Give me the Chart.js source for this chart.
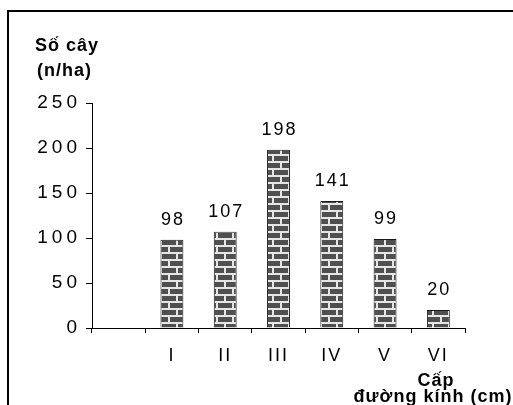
<!DOCTYPE html>
<html>
<head>
<meta charset="utf-8">
<script src="https://cdn.jsdelivr.net/npm/chart.js@4/dist/chart.umd.min.js"></script>
<style>
  html, body { margin: 0; padding: 0; background: #fff; }
  #wrap { position: relative; width: 513px; height: 405px; }
</style>
</head>
<body>
<div id="wrap"><canvas id="c" width="513" height="405"></canvas></div>
<script>
// Diameter classes (first slot left empty) and tree counts per hectare
const categories = ['', 'I', 'II', 'III', 'IV', 'V', 'VI'];
const treeCounts = [null, 98, 107, 198, 141, 99, 20];
const yTicks = [0, 50, 100, 150, 200, 250];
const yTitleLines = ['Số cây', '(n/ha)'];
const xTitleLines = ['Cấp', 'đường kính (cm)'];

const FONT = "'Liberation Sans', Arial, sans-serif";

// Brick hatch fill for the bars
function brickPattern(ctx) {
  const c = document.createElement('canvas');
  c.width = 16; c.height = 14;
  const g = c.getContext('2d');
  g.fillStyle = '#e6e6e6';
  g.fillRect(0, 0, 16, 14);
  g.fillStyle = '#4f4f4f';
  g.fillRect(2, 2, 14, 5);
  g.fillRect(0, 9, 8, 5);
  g.fillRect(10, 9, 6, 5);
  return ctx.createPattern(c, 'repeat');
}

const canvas = document.getElementById('c');
const ctx0 = canvas.getContext('2d');

// Letter spacing: x labels (drawn before the bars) and y labels (drawn after them)
const spacingPlugin = {
  id: 'spacing',
  beforeDraw(chart) { chart.ctx.letterSpacing = '2px'; },
  afterDatasetsDraw(chart) { chart.ctx.letterSpacing = '4px'; }
};

// Value labels above each bar
const valueLabels = {
  id: 'valueLabels',
  afterDatasetsDraw(chart) {
    const ctx = chart.ctx;
    const meta = chart.getDatasetMeta(0);
    ctx.save();
    ctx.letterSpacing = '2px';
    ctx.font = '18px ' + FONT;
    ctx.fillStyle = '#000';
    ctx.textAlign = 'center';
    ctx.textBaseline = 'alphabetic';
    meta.data.forEach((bar, i) => {
      const v = treeCounts[i];
      if (v == null) return;
      ctx.fillText(String(v), bar.x + 1, bar.y - 15);
    });
    ctx.restore();
  }
};

// Axis titles and the outer frame
const decorations = {
  id: 'decorations',
  afterDraw(chart) {
    const ctx = chart.ctx;
    ctx.save();
    ctx.letterSpacing = '1px';
    ctx.fillStyle = '#000';
    ctx.font = 'bold 18px ' + FONT;
    ctx.textAlign = 'left';
    ctx.textBaseline = 'middle';
    ctx.fillText(yTitleLines[0], 35, 46);
    ctx.fillText(yTitleLines[1], 37, 71);
    ctx.textAlign = 'center';
    ctx.fillText(xTitleLines[0], 436, 381);
    ctx.fillText(xTitleLines[1], 433, 397);
    ctx.fillRect(7, 10, 2, 395);
    ctx.fillRect(7, 10, 506, 2);
    ctx.restore();
  }
};

new Chart(ctx0, {
  type: 'bar',
  data: {
    labels: categories,
    datasets: [{
      data: treeCounts,
      backgroundColor: brickPattern(ctx0),
      borderColor: '#1a1a1a',
      borderWidth: 1,
      categoryPercentage: 1,
      barPercentage: 0.43
    }]
  },
  options: {
    responsive: false,
    animation: false,
    events: [],
    layout: { padding: { top: 103, right: 48, left: 0, bottom: 0 } },
    plugins: { legend: { display: false }, tooltip: { enabled: false }, title: { display: false } },
    scales: {
      x: {
        offset: true,
        grid: { display: true, offset: true, drawOnChartArea: false, drawTicks: true, tickLength: 5, color: '#000' },
        border: { display: true, color: '#000', width: 1 },
        ticks: { color: '#000', font: { family: FONT, size: 18 }, padding: 12, maxRotation: 0, autoSkip: false },
        afterFit(scale) { scale.height = 77; }
      },
      y: {
        min: 0, max: 250,
        afterBuildTicks(scale) { scale.ticks = yTicks.map(v => ({ value: v })); },
        grid: { display: true, drawOnChartArea: false, drawTicks: true, tickLength: 6, color: '#000' },
        border: { display: true, color: '#000', width: 1 },
        ticks: { z: 1, color: '#000', font: { family: FONT, size: 19 }, padding: 5 },
        afterFit(scale) { scale.width = 92; }
      }
    }
  },
  plugins: [spacingPlugin, valueLabels, decorations]
});
</script>
</body>
</html>
